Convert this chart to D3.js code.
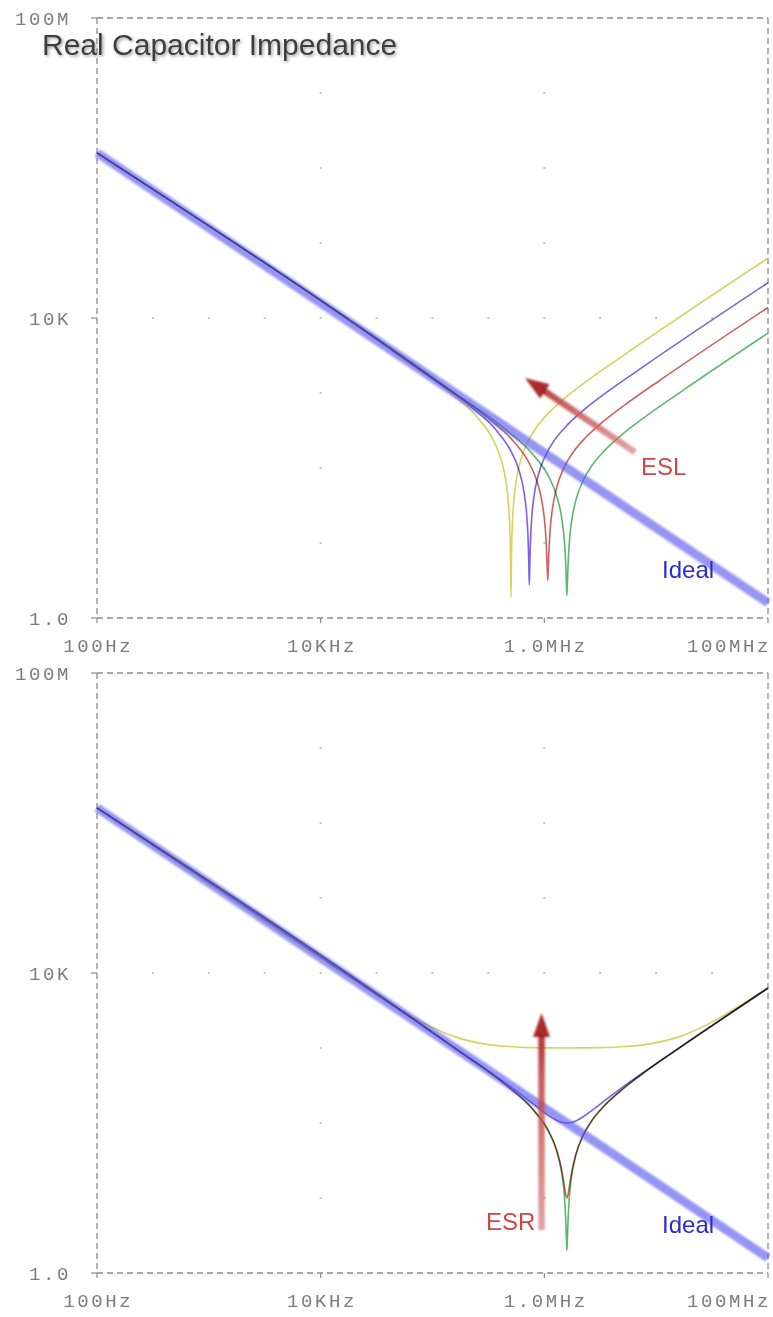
<!DOCTYPE html>
<html><head><meta charset="utf-8">
<script src="https://cdn.jsdelivr.net/npm/d3@7"></script>
<style>
html,body{margin:0;padding:0;background:#fff;}
svg{display:block;}
</style></head><body>
<svg id="chart" width="773" height="1317"></svg>
<script>
// ---------- data ----------
const xTickValues = [1e2, 1e4, 1e6, 1e8];
const xTickLabels = ["100Hz", "10KHz", "1.0MHz", "100MHz"];
const yTickValues = [1, 1e4, 1e8];
const yTickLabels = ["1.0", "10K", "100M"];

const idealFreq = [1e2, 1e8];
const idealZ = [1591500, 1.5915];

// top panel: ESL variants (frequency in Hz, |Z| in ohm)
const esl100Freq = [100, 50330, 151000, 251650, 352310, 402640, 452970, 478140, 493230, 498270, 503290, 508320, 513360, 528450, 553620, 603950, 704610, 855590, 1107240, 1509870, 2516450, 5032900, 1e8];
const esl100Z = [1591500, 3130.7, 959.2, 474.3, 230.4, 142.3, 66.76, 32.51, 12.92, 6.635, 1.9, 6.573, 12.67, 30.93, 60.37, 115.95, 216.84, 351.57, 551.96, 843.28, 1517.9, 3130.7, 62830];

const esl47Freq = [100, 73410, 220230, 367050, 513870, 587280, 660690, 697395, 719418, 726759, 734100, 741441, 748782, 770805, 807510, 880920, 1027740, 1247970, 1615020, 2202300, 3670500, 7341000, 1e8];
const esl47Z = [1591500, 2146.2, 657.6, 325.2, 157.95, 97.56, 45.77, 22.42, 9.18, 5.153, 2.75, 5.116, 9.017, 21.34, 41.39, 79.49, 148.66, 241.02, 378.40, 578.11, 1040.6, 2146.2, 29529];

const esl22Freq = [100, 107300, 321900, 536500, 751100, 858400, 965700, 1019350, 1051540, 1062270, 1073000, 1083730, 1094460, 1126650, 1180300, 1287600, 1502200, 1824100, 2360600, 3219000, 5365000, 10730000, 1e8];
const esl22Z = [1591500, 1468.4, 449.9, 222.5, 108.06, 66.74, 31.31, 15.55, 6.79, 4.37, 3.2, 4.35, 6.69, 14.83, 28.32, 54.38, 101.71, 164.90, 258.89, 395.52, 711.94, 1468.4, 13821];

const esl10Freq = [100, 159150, 477450, 795750, 1114050, 1273200, 1432350, 1511925, 1559670, 1575585, 1591500, 1607415, 1623330, 1671075, 1750650, 1909800, 2228100, 2705550, 3501300, 4774500, 7957500, 15915000, 1e8];
const esl10Z = [1591500, 990, 303.33, 150, 72.857, 45, 21.111, 10.46, 4.509, 2.836, 2.0, 2.821, 4.437, 9.965, 19.09, 36.67, 68.57, 111.18, 174.55, 266.67, 480, 990, 6281.6];

// bottom panel: ESR variants
const esr1000Freq = [100, 15915, 47745, 79575, 159150, 318300, 477450, 795750, 1591500, 3183000, 5305000, 7957500, 15915000, 31830000, 53050000, 1e8];
const esr1000Z = [1591500, 10049, 3477.2, 2231.6, 1407.2, 1109.2, 1045.0, 1011.2, 1000, 1011.2, 1045.0, 1109.2, 1407.2, 2231.6, 3477.2, 6360.7];

const esr100Freq = [100, 159150, 477450, 795750, 1114050, 1273200, 1432350, 1591500, 1750650, 1909800, 2228100, 2705550, 3501300, 4774500, 7957500, 15915000, 1e8];
const esr100Z = [1591500, 995.0, 319.4, 180.3, 123.7, 109.7, 102.2, 100, 101.8, 106.5, 121.3, 149.5, 201.2, 284.8, 490.3, 995.0, 6282.4];

const esr10Freq = [100, 159150, 477450, 795750, 1114050, 1273200, 1432350, 1511925, 1559670, 1591500, 1623330, 1671075, 1750650, 1909800, 2228100, 2705550, 3501300, 4774500, 7957500, 15915000, 1e8];
const esr10Z = [1591500, 990.1, 303.5, 150.3, 73.54, 46.10, 23.36, 14.33, 10.79, 10, 10.76, 13.98, 21.55, 38.01, 69.30, 111.63, 174.84, 266.86, 480.1, 990.05, 6281.6];

const esr2Freq = esl10Freq;
const esr2Z = esl10Z;

// annotations (in data units: [Hz, ohm])
const eslArrowFrom = [6.47e6, 163];
const eslArrowTo = [6.71e5, 1585];
const eslLabelAt = [7.3e6, 80.7];
const esrArrowFrom = [9.44e5, 3.74];
const esrArrowTo = [9.44e5, 2930];
const esrLabelAt = [8.3e5, 3.74];
const idealLabelAt = [1.13e7, 3.41];

const title = "Real Capacitor Impedance";

// ---------- drawing ----------
const svg = d3.select("#chart");
const defs = svg.append("defs");
defs.append("filter").attr("id", "blurBand").attr("x", "-10%").attr("y", "-10%").attr("width", "120%").attr("height", "120%")
  .append("feGaussianBlur").attr("stdDeviation", 1.3);
defs.append("filter").attr("id", "blurSoft").attr("x", "-10%").attr("y", "-10%").attr("width", "120%").attr("height", "120%")
  .append("feGaussianBlur").attr("stdDeviation", 0.8);
const ts = defs.append("filter").attr("id", "titleShadow").attr("x", "-5%").attr("y", "-30%").attr("width", "115%").attr("height", "170%");
ts.append("feDropShadow").attr("dx", 1.5).attr("dy", 1.5).attr("stdDeviation", 1.4).attr("flood-color", "#888").attr("flood-opacity", 0.8);

const X0 = 97, X1 = 768, PH = 600;
const x = d3.scaleLog().domain([1e2, 1e8]).range([X0, X1]);

const monoFont = "'Liberation Mono', 'DejaVu Sans Mono', monospace";
const sansFont = "'Liberation Sans', Arial, sans-serif";

function zip(f, z) { return f.map((v, i) => [v, z[i]]); }

function drawPanel(top, series, arrowFrom, arrowTo, arrowLabel, arrowLabelAt, arrowLabelAnchor, gid) {
  const y = d3.scaleLog().domain([1, 1e8]).range([top + PH, top]);
  const g = svg.append("g");

  // faint dotted interior grid
  const dots = g.append("g").attr("fill", "#c4c4c4");
  [1e4, 1e6].forEach(fx => {
    d3.range(1, 8).forEach(e => {
      if (e === 4) return;
      dots.append("rect").attr("x", x(fx) - 1).attr("y", y(Math.pow(10, e)) - 1).attr("width", 2).attr("height", 2);
    });
  });
  d3.range(2.5, 8, 0.5).forEach(e => {
    dots.append("rect").attr("x", x(Math.pow(10, e)) - 1).attr("y", y(1e4) - 1).attr("width", 2).attr("height", 2);
  });

  // frame (dashed)
  const frame = g.append("g").attr("stroke", "#8a8a8a").attr("stroke-width", 1.3).attr("stroke-dasharray", "6,4").attr("fill", "none");
  frame.append("line").attr("x1", X0).attr("x2", X1).attr("y1", y(1e8)).attr("y2", y(1e8));
  frame.append("line").attr("x1", X0).attr("x2", X1).attr("y1", y(1)).attr("y2", y(1));
  frame.append("line").attr("x1", X0).attr("x2", X0).attr("y1", y(1e8)).attr("y2", y(1));
  frame.append("line").attr("x1", X1).attr("x2", X1).attr("y1", y(1e8)).attr("y2", y(1));

  // ticks
  const ticks = g.append("g").attr("stroke", "#8a8a8a").attr("stroke-width", 1.2);
  xTickValues.forEach(v => {
    ticks.append("line").attr("x1", x(v)).attr("x2", x(v)).attr("y1", y(1)).attr("y2", y(1) + 5);
  });
  yTickValues.forEach(v => {
    ticks.append("line").attr("x1", X0 - 6).attr("x2", X0).attr("y1", y(v)).attr("y2", y(v));
  });

  // tick labels
  const lab = g.append("g").attr("font-family", monoFont).attr("font-size", 19).attr("fill", "#7c7c7c").attr("letter-spacing", 2.6);
  xTickValues.forEach((v, i) => {
    const last = i === xTickValues.length - 1;
    lab.append("text").attr("x", last ? X1 + 3 : x(v) + 1.3).attr("y", y(1) + 34)
      .attr("text-anchor", last ? "end" : "middle").text(xTickLabels[i]);
  });
  yTickValues.forEach((v, i) => {
    lab.append("text").attr("x", 71).attr("y", y(v) + 7).attr("text-anchor", "end").text(yTickLabels[i]);
  });

  const line = d3.line().x(d => x(d[0])).y(d => y(d[1])).curve(d3.curveMonotoneX);

  // series (blend together)
  const sg = g.append("g").style("isolation", "isolate");
  series.forEach(s => {
    sg.append("path").datum(zip(s.f, s.z)).attr("d", line)
      .attr("fill", "none").attr("stroke", s.color).attr("stroke-width", 1.6)
      .attr("stroke-opacity", 0.8)
      .style("mix-blend-mode", "multiply");
  });

  // ideal band (semi-transparent, drawn over the curves)
  g.append("path").datum(zip(idealFreq, idealZ)).attr("d", line)
    .attr("fill", "none").attr("stroke", "#5454ee").attr("stroke-width", 9).attr("stroke-opacity", 0.62)
    .attr("filter", "url(#blurBand)");

  // arrow
  const p0 = [x(arrowFrom[0]), y(arrowFrom[1])];
  const p1 = [x(arrowTo[0]), y(arrowTo[1])];
  const dx = p1[0] - p0[0], dy = p1[1] - p0[1];
  const L = Math.hypot(dx, dy), ux = dx / L, uy = dy / L;
  const headLen = 24, headHalf = 8.5;
  const base = [p1[0] - ux * headLen, p1[1] - uy * headLen];
  const grad = defs.append("linearGradient").attr("id", gid).attr("gradientUnits", "userSpaceOnUse")
    .attr("x1", p0[0]).attr("y1", p0[1]).attr("x2", p1[0]).attr("y2", p1[1]);
  grad.append("stop").attr("offset", 0).attr("stop-color", "#d47c7c").attr("stop-opacity", 0.7);
  grad.append("stop").attr("offset", 0.7).attr("stop-color", "#c04040").attr("stop-opacity", 0.85);
  grad.append("stop").attr("offset", 1).attr("stop-color", "#a01c1c").attr("stop-opacity", 0.95);
  const ag = g.append("g").attr("filter", "url(#blurSoft)");
  ag.append("line").attr("x1", p0[0]).attr("y1", p0[1]).attr("x2", base[0] + ux * 2).attr("y2", base[1] + uy * 2)
    .attr("stroke", `url(#${gid})`).attr("stroke-width", 6.5);
  ag.append("path")
    .attr("d", `M${p1[0]},${p1[1]} L${base[0] - uy * headHalf},${base[1] + ux * headHalf} L${base[0] + uy * headHalf},${base[1] - ux * headHalf} Z`)
    .attr("fill", "#a31818").attr("fill-opacity", 0.92);

  // labels
  g.append("text").attr("x", x(arrowLabelAt[0])).attr("y", y(arrowLabelAt[1]))
    .attr("text-anchor", arrowLabelAnchor).attr("font-family", sansFont).attr("font-size", 24)
    .attr("fill", "#cf4646").text(arrowLabel);
  g.append("text").attr("x", x(idealLabelAt[0])).attr("y", y(idealLabelAt[1]))
    .attr("font-family", sansFont).attr("font-size", 24)
    .attr("fill", "#2b2bd0").text("Ideal");
  return y;
}

const cYellow = "#c9c93a", cPurple = "#5a3ae6", cRed = "#c23c34", cGreen = "#35a547";

drawPanel(18, [
  { f: esl100Freq, z: esl100Z, color: cYellow },
  { f: esl47Freq, z: esl47Z, color: cPurple },
  { f: esl22Freq, z: esl22Z, color: cRed },
  { f: esl10Freq, z: esl10Z, color: cGreen }
], eslArrowFrom, eslArrowTo, "ESL", eslLabelAt, "start", "gEsl");

drawPanel(673, [
  { f: esr1000Freq, z: esr1000Z, color: cYellow },
  { f: esr100Freq, z: esr100Z, color: cPurple },
  { f: esr10Freq, z: esr10Z, color: cRed },
  { f: esr2Freq, z: esr2Z, color: cGreen }
], esrArrowFrom, esrArrowTo, "ESR", esrLabelAt, "end", "gEsr");

svg.append("text").attr("x", 42).attr("y", 55)
  .attr("font-family", sansFont).attr("font-size", 30).attr("fill", "#3e3e3e")
  .attr("filter", "url(#titleShadow)").text(title);
</script>
</body></html>
